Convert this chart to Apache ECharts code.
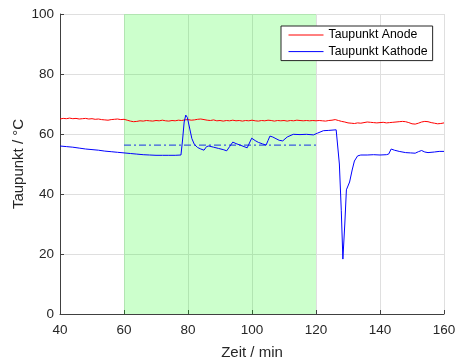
<!DOCTYPE html>
<html>
<head>
<meta charset="utf-8">
<script src="https://cdn.jsdelivr.net/npm/echarts@6/dist/echarts.min.js"></script>
<style>
    html, body { margin: 0; padding: 0; background: #fff; }
    #chart { width: 457px; height: 358px; }
</style>
</head>
<body>
<div id="chart"></div>
<script>
// Taupunkt Anode, eine Messung pro Minute ab 40 min
var anodeStart = 40;
var anodeWerte = [
    65.0, 65.2, 65.1, 65.3, 65.1, 65.2, 65.0, 65.1, 65.2, 65.0,
    65.1, 64.9, 65.0, 64.8, 64.7, 64.6, 64.8, 64.9, 65.0, 64.8,
    64.9, 64.6, 64.3, 64.1, 64.2, 64.4, 64.3, 64.5, 64.4, 64.3,
    64.5, 64.4, 64.6, 64.4, 64.3, 64.5, 64.4, 64.6, 64.5, 64.7,
    64.8, 64.6, 64.7, 64.9, 65.0, 64.8, 64.6, 64.5, 64.7, 64.4,
    64.5, 64.3, 64.5, 64.4, 64.6, 64.4, 64.5, 64.3, 64.5, 64.4,
    64.6, 64.4, 64.3, 64.5, 64.4, 64.6, 64.5, 64.3, 64.5, 64.4,
    64.5, 64.3, 64.5, 64.4, 64.6, 64.5, 64.4, 64.5, 64.4, 64.5,
    64.4, 64.5, 64.4, 64.3, 64.5, 64.6, 64.8, 64.5, 64.2, 64.0,
    63.7, 63.6, 63.5, 63.7, 63.6, 63.8, 64.0, 63.9, 63.8, 63.7,
    63.8, 63.9, 63.7, 63.8, 63.9, 64.0, 64.1, 64.2, 64.1, 63.8,
    63.4, 63.3, 63.6, 64.0, 64.2, 64.1, 63.8, 63.6, 63.4, 63.5,
    63.7
];

// Taupunkt Kathode (Zeit in min, Wert in °C)
var kathodeZeit = [
    40, 42, 44, 46, 48, 50, 52, 54, 56, 58,
    60, 62, 64, 66, 68, 70, 72, 74, 76, 77.8,
    78.3, 78.8, 79.3, 79.8, 80.5, 81.2, 82, 83, 84, 85,
    85.8, 86.5, 88, 89.5, 91, 92.1, 93, 94, 95, 96.3,
    97.5, 98.5, 99.2, 99.9, 101, 102, 103.3, 104.4, 105, 105.6,
    106.5, 107.2, 108.5, 109.6, 111, 112.9, 115, 117, 119.2, 120.5,
    122.3, 124, 126.3, 126.8, 127.3, 127.9, 128.4, 129, 129.5, 130.5,
    131.3, 132, 133, 134, 136, 138, 140, 142, 142.7, 143.5,
    144.5, 146, 148, 149.5, 151, 152, 153, 154, 155, 157,
    158.5, 160
];
var kathodeWerte = [
    56.0, 55.8, 55.6, 55.3, 55.0, 54.8, 54.6, 54.3, 54.1, 53.9,
    53.7, 53.5, 53.3, 53.1, 53.0, 52.9, 52.9, 52.9, 52.9, 53.0,
    58.0, 64.0, 66.3, 65.5, 62.0, 58.5, 56.5, 55.5, 55.0, 54.6,
    55.8, 56.0, 55.6, 55.2, 54.8, 54.4, 55.8, 57.3, 56.8, 56.3,
    55.8, 55.4, 57.0, 58.6, 57.8, 57.2, 56.7, 56.3, 57.8, 59.3,
    59.0, 58.6, 57.9, 57.7, 59.0, 59.9, 59.8, 59.9, 59.7, 60.3,
    61.1, 61.2, 61.4, 61.0, 50.0, 34.6, 18.3, 30.0, 41.4, 44.0,
    48.0, 51.0, 52.7, 53.0, 53.0, 53.1, 53.0, 53.1, 53.3, 55.0,
    54.6, 54.2, 53.8, 53.7, 53.6, 54.1, 54.5, 54.0, 53.8, 54.0,
    54.2, 54.2
];

// Mittelwert Kathode im markierten Bereich
var mittelZeit = [60, 120];
var mittelWert = 56.3;
var bereich = [60, 120];

var xTicks = { min: 40, max: 160, step: 20 };
var yTicks = { min: 0, max: 100, step: 20 };

var anodeDaten = [];
for (var i = 0; i < anodeWerte.length; i++) {
    anodeDaten.push([anodeStart + i, anodeWerte[i]]);
}
var kathodeDaten = [];
for (var j = 0; j < kathodeZeit.length; j++) {
    kathodeDaten.push([kathodeZeit[j], kathodeWerte[j]]);
}
var mittelDaten = [[mittelZeit[0], mittelWert], [mittelZeit[1], mittelWert]];

var textFarbe = '#262626';
var fontName = '"Liberation Sans", Arial, sans-serif';

var chart = echarts.init(document.getElementById('chart'));
var option = {
    animation: false,
    grid: { left: 60, right: 13, top: 14, bottom: 44, outerBoundsMode: 'none', containLabel: false },
    legend: {
        data: ['Taupunkt Anode', 'Taupunkt Kathode'],
        orient: 'vertical',
        left: 281,
        top: 26,
        backgroundColor: '#fff',
        borderColor: '#262626',
        borderWidth: 1,
        padding: [3, 5, 3, 7],
        itemWidth: 35,
        itemHeight: 14,
        itemGap: 4.6,
        // nur die Linie zeigen, kein Symbol
        itemStyle: { opacity: 0, borderWidth: 0 },
        lineStyle: { width: 1 },
        textStyle: { color: '#000', fontSize: 12.3, fontFamily: fontName }
    },
    xAxis: {
        type: 'value',
        min: xTicks.min,
        max: xTicks.max,
        interval: xTicks.step,
        name: 'Zeit / min',
        nameLocation: 'middle',
        nameGap: 31,
        nameMoveOverlap: false,
        nameTextStyle: { color: textFarbe, fontSize: 15, fontFamily: fontName },
        axisLine: { lineStyle: { color: '#404040', width: 1 } },
        axisTick: { inside: true, length: 4, lineStyle: { color: '#404040' } },
        axisLabel: { color: textFarbe, fontSize: 13.5, fontFamily: fontName, margin: 9 },
        splitLine: { show: true, lineStyle: { color: '#dfdfdf', width: 1 } }
    },
    yAxis: {
        type: 'value',
        min: yTicks.min,
        max: yTicks.max,
        interval: yTicks.step,
        name: 'Taupunkt / °C',
        nameLocation: 'middle',
        nameGap: 34,
        nameMoveOverlap: false,
        nameTextStyle: { color: textFarbe, fontSize: 15, fontFamily: fontName },
        axisLine: { show: true, lineStyle: { color: '#404040', width: 1 } },
        axisTick: { show: true, inside: true, length: 4, lineStyle: { color: '#404040' } },
        axisLabel: { color: textFarbe, fontSize: 13.5, fontFamily: fontName, margin: 6 },
        splitLine: { show: true, lineStyle: { color: '#dfdfdf', width: 1 } }
    },
    series: [
        {
            name: 'Bereich',
            type: 'line',
            data: mittelDaten,
            symbol: 'none',
            silent: true,
            z: 1,
            lineStyle: { color: '#3a5ae0', width: 1.2, type: [7, 3, 2, 3] },
            markArea: {
                silent: true,
                itemStyle: { color: 'rgba(0, 255, 0, 0.2)' },
                data: [[{ xAxis: bereich[0] }, { xAxis: bereich[1] }]]
            }
        },
        {
            name: 'Taupunkt Anode',
            type: 'line',
            data: anodeDaten,
            symbol: 'none',
            z: 3,
            lineStyle: { color: '#ff0000', width: 1 },
            itemStyle: { color: '#ff0000' }
        },
        {
            name: 'Taupunkt Kathode',
            type: 'line',
            data: kathodeDaten,
            symbol: 'none',
            z: 3,
            lineStyle: { color: '#0000ff', width: 1 },
            itemStyle: { color: '#0000ff' }
        }
    ]
};
chart.setOption(option);
</script>
</body>
</html>
